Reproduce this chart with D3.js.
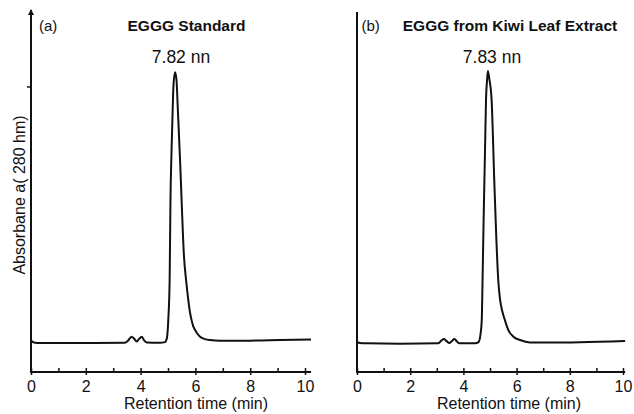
<!DOCTYPE html>
<html>
<head>
<meta charset="utf-8">
<script src="https://cdn.jsdelivr.net/npm/d3@7"></script>
<style>
  html, body { margin: 0; padding: 0; background: #fff; }
  svg { display: block; }
  text { font-family: "Liberation Sans", Arial, Helvetica, sans-serif; fill: #111; }
</style>
</head>
<body>
<svg id="chart" width="634" height="414"></svg>
<script>
// ---- Data ----
const timeA = [0, 0.11, 0.33, 1.79, 3.43, 3.54, 3.67, 3.76, 3.86, 3.94, 4.04, 4.12, 4.22, 4.71, 4.89, 4.96, 5.01, 5.06, 5.09, 5.13, 5.17, 5.20, 5.26, 5.31, 5.36, 5.44, 5.51, 5.58, 5.66, 5.74, 5.80, 5.86, 5.92, 5.99, 6.08, 6.17, 6.35, 6.53, 6.90, 7.99, 9.09, 10.22];
const absA  = [0.104, 0.098, 0.096, 0.096, 0.097, 0.104, 0.117, 0.111, 0.101, 0.109, 0.117, 0.106, 0.098, 0.097, 0.099, 0.113, 0.172, 0.305, 0.570, 0.736, 0.868, 0.951, 0.994, 0.968, 0.868, 0.703, 0.537, 0.388, 0.305, 0.239, 0.199, 0.172, 0.152, 0.139, 0.126, 0.117, 0.109, 0.106, 0.104, 0.104, 0.106, 0.108];

const timeB = [0, 0.11, 0.34, 1.62, 3.05, 3.16, 3.27, 3.36, 3.47, 3.57, 3.66, 3.76, 3.85, 4.44, 4.57, 4.64, 4.69, 4.72, 4.76, 4.79, 4.82, 4.85, 4.89, 4.92, 4.97, 5.06, 5.16, 5.24, 5.31, 5.38, 5.47, 5.56, 5.69, 5.88, 6.13, 6.50, 7.26, 8.38, 10.08];
const absB  = [0.100, 0.096, 0.095, 0.094, 0.095, 0.103, 0.109, 0.103, 0.096, 0.103, 0.109, 0.101, 0.095, 0.095, 0.099, 0.123, 0.172, 0.305, 0.504, 0.636, 0.769, 0.902, 0.968, 0.998, 0.974, 0.902, 0.636, 0.438, 0.305, 0.239, 0.199, 0.172, 0.139, 0.117, 0.106, 0.098, 0.098, 0.099, 0.103];

const xTicks = [0, 1, 2, 3, 4, 5, 6, 7, 8, 9, 10];
const xTickLabels = [0, 2, 4, 6, 8, 10];
const panelLetters = ["(a)", "(b)"];
const panelTitles = ["EGGG Standard", "EGGG from Kiwi Leaf Extract"];
const peakLabels = ["7.82 nn", "7.83 nn"];
const xLabel = "Retention time (min)";
const yLabel = "Absorbane a( 280 hm)";

// ---- Layout ----
const svg = d3.select("#chart");
const ink = "#111";
const y = d3.scaleLinear().domain([0, 1.2]).range([372, 10]);

const panels = [
  { t: timeA, a: absA, x: d3.scaleLinear().domain([0, 10]).range([31, 305]), xEnd: 10.22, yTop: 10, arrow: true,
    letterX: 39, titleX: 186.5, peakX: 181, labelX: 196 },
  { t: timeB, a: absB, x: d3.scaleLinear().domain([0, 10]).range([357, 623]), xEnd: 10.08, yTop: 12, arrow: false,
    letterX: 361.5, titleX: 510, peakX: 492, labelX: 509 }
];

panels.forEach((p, i) => {
  const g = svg.append("g");
  const x0 = p.x(0);

  // x axis ticks (minor upward)
  const axUp = d3.axisBottom(p.x).tickValues(xTicks).tickSize(-4).tickPadding(8.5)
    .tickFormat(d => xTickLabels.includes(d) ? d : "");
  const ga = g.append("g").attr("transform", `translate(0,${y(0)})`).call(axUp);
  ga.select(".domain").remove();
  ga.selectAll(".tick line").attr("stroke", ink).attr("stroke-width", 1.5);
  ga.selectAll(".tick text").attr("font-size", 16).attr("fill", ink)
    .style("font-family", '"Liberation Sans", Arial, sans-serif');

  // major ticks downward
  const axDown = d3.axisBottom(p.x).tickValues(xTickLabels).tickSize(3).tickFormat("");
  const gd = g.append("g").attr("transform", `translate(0,${y(0)})`).call(axDown);
  gd.select(".domain").remove();
  gd.selectAll(".tick line").attr("stroke", ink).attr("stroke-width", 1.5);

  // axis lines
  g.append("line").attr("x1", x0).attr("x2", p.x(p.xEnd)).attr("y1", y(0)).attr("y2", y(0))
    .attr("stroke", ink).attr("stroke-width", 2);
  g.append("line").attr("x1", x0).attr("x2", x0).attr("y1", y(0) + 1).attr("y2", p.yTop)
    .attr("stroke", ink).attr("stroke-width", 2);

  if (p.arrow) {
    g.append("path").attr("d", `M${x0 - 3},${p.yTop + 5} L${x0},${p.yTop - 1} L${x0 + 3},${p.yTop + 5} Z`).attr("fill", ink);
    g.append("line").attr("x1", x0 - 4).attr("x2", x0).attr("y1", y(0.945)).attr("y2", y(0.945))
      .attr("stroke", ink).attr("stroke-width", 1.5);
  }

  // chromatogram
  const line = d3.line().x((d, k) => p.x(p.t[k])).y((d, k) => y(p.a[k])).curve(d3.curveMonotoneX);
  g.append("path").datum(p.t).attr("d", line).attr("fill", "none")
    .attr("stroke", ink).attr("stroke-width", 2).attr("stroke-linejoin", "round");

  // texts
  g.append("text").attr("x", p.letterX).attr("y", 30.5).attr("font-size", 15).text(panelLetters[i]);
  g.append("text").attr("x", p.titleX).attr("y", 30.5).attr("font-size", 15.5).attr("font-weight", "bold")
    .attr("text-anchor", "middle").text(panelTitles[i]);
  g.append("text").attr("x", p.peakX).attr("y", 62.5).attr("font-size", 17.5)
    .attr("text-anchor", "middle").text(peakLabels[i]);
  g.append("text").attr("x", p.labelX).attr("y", 409).attr("font-size", 16)
    .attr("text-anchor", "middle").text(xLabel);
});

svg.append("text").attr("transform", "translate(24.5,195) rotate(-90)").attr("font-size", 16)
  .attr("text-anchor", "middle").text(yLabel);
</script>
</body>
</html>
